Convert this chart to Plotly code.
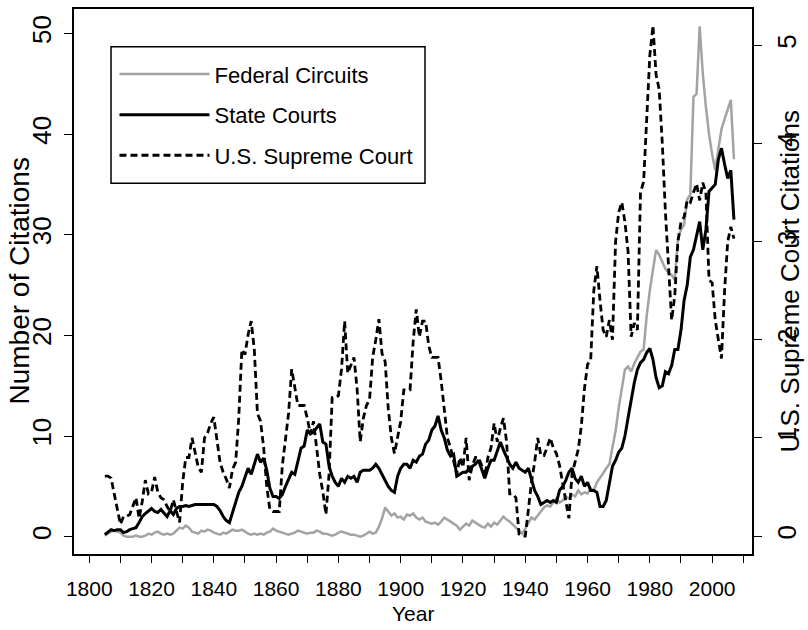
import plotly.graph_objects as go

years = list(range(1805, 2008))

federal_circuits = [
    0.1, 0.3, 0.5, 0.6, 0.5,
    0.4, 0.1, 0.0, 0.0, 0.0, 0.1, 0.0, 0.0, 0.1, 0.3,
    0.2, 0.4, 0.5, 0.3, 0.2, 0.3, 0.2, 0.3, 0.6, 0.9,
    0.8, 1.1, 0.9, 0.5, 0.4, 0.3, 0.6, 0.5, 0.7, 0.6,
    0.4, 0.3, 0.2, 0.4, 0.3, 0.5, 0.7, 0.6, 0.6, 0.7,
    0.5, 0.3, 0.2, 0.3, 0.2, 0.3, 0.2, 0.4, 0.5, 0.8,
    0.6, 0.5, 0.4, 0.3, 0.2, 0.3, 0.4, 0.6, 0.5, 0.4,
    0.3, 0.4, 0.4, 0.6, 0.5, 0.3, 0.3, 0.2, 0.1, 0.2,
    0.4, 0.5, 0.4, 0.3, 0.2, 0.2, 0.1, 0.0, 0.1, 0.3,
    0.5, 0.3, 0.4, 1.0, 1.8, 2.9, 2.5, 2.1, 2.3, 1.9,
    2.0, 1.7, 2.2, 2.1, 2.3, 1.9, 1.7, 1.9, 1.5, 1.4,
    1.3, 1.4, 1.2, 1.5, 1.9, 1.7, 1.5, 1.3, 1.1, 0.7,
    1.0, 1.3, 1.1, 1.6, 1.4, 1.2, 1.0, 0.9, 1.3, 1.0,
    1.4, 1.2, 1.6, 2.0, 1.7, 1.5, 1.2, 0.9, 0.6, 0.3,
    0.8, 1.3, 1.9, 1.7, 2.1, 2.6, 2.9, 3.1, 3.0, 3.4,
    3.8, 3.4, 3.6, 4.0, 3.8, 4.2, 4.0, 4.6, 4.2, 4.4,
    4.3, 4.8, 4.6, 5.4, 5.8, 6.3, 6.8, 7.2, 8.9, 10.5,
    12.8, 14.5, 16.6, 16.9, 16.4, 17.2, 17.8, 18.4, 18.6, 22.0,
    24.5, 26.5, 28.5, 28.0, 27.2, 26.6, 26.2, 26.0, 25.5, 29.5,
    30.5, 31.0, 33.5, 34.0, 43.7, 44.0, 50.7, 46.0, 42.7, 40.0,
    38.0, 36.4, 38.5, 40.5, 41.5, 42.5, 43.4, 37.5,
]

state_courts = [
    0.2, 0.5, 0.7, 0.6, 0.7,
    0.7, 0.4, 0.5, 0.7, 0.8, 0.9, 1.4, 2.0, 2.3, 2.6,
    2.8, 2.5, 2.4, 2.7, 2.3, 2.0, 2.6, 2.2, 2.8, 3.0,
    3.0, 3.1, 3.0, 3.1, 3.2, 3.2, 3.2, 3.2, 3.2, 3.2,
    3.2, 3.0, 2.6, 2.0, 1.6, 1.4, 2.4, 3.6, 4.4, 5.0,
    6.0, 6.8, 6.2, 7.2, 8.2, 7.4, 7.8, 6.6, 4.8, 4.0,
    4.0, 3.8, 4.2, 5.0, 5.8, 6.4, 6.2, 7.6, 8.8, 9.0,
    10.6, 10.2, 10.4, 10.8, 11.2, 9.4, 9.2, 7.0, 6.0, 5.4,
    5.0, 5.8, 5.4, 6.0, 5.8, 6.0, 5.4, 6.4, 6.6, 6.6,
    6.6, 6.8, 7.2, 6.8, 6.2, 5.6, 5.0, 4.6, 4.4, 6.0,
    6.8, 7.2, 7.2, 6.8, 7.6, 7.4, 8.0, 8.2, 9.2, 9.6,
    10.6, 11.0, 12.0, 10.6, 9.8, 8.6, 8.0, 8.2, 6.0, 6.2,
    6.4, 6.4, 6.8, 7.0, 7.2, 7.6, 6.6, 5.8, 6.8, 7.6,
    7.6, 8.4, 9.4, 8.6, 7.8, 7.2, 6.8, 7.4, 6.8, 6.6,
    6.4, 6.8, 5.6, 4.6, 4.0, 3.2, 3.4, 3.6, 3.4, 3.6,
    3.4, 4.6, 5.0, 5.6, 6.4, 6.8, 5.8, 5.4, 6.0, 5.0,
    5.4, 4.6, 4.6, 4.4, 3.0, 3.0, 3.6, 5.2, 7.0, 7.6,
    8.4, 8.8, 10.0, 11.8, 13.6, 15.3, 16.6, 17.3, 17.6, 18.3,
    18.7, 17.6, 15.8, 14.8, 15.0, 16.4, 16.2, 17.0, 18.6, 18.6,
    20.5, 23.5, 25.0, 27.8, 28.5, 30.0, 31.3, 28.5, 30.5, 34.3,
    34.6, 35.0, 37.5, 38.6, 37.0, 35.6, 36.4, 31.5,
]

supreme_court = [
    0.61, 0.61, 0.59, 0.43, 0.25,
    0.12, 0.2, 0.2, 0.22, 0.3, 0.39, 0.18, 0.35, 0.57, 0.43,
    0.45, 0.6, 0.45, 0.39, 0.37, 0.3, 0.25, 0.37, 0.25, 0.14,
    0.55, 0.8, 0.8, 1.0, 0.85, 0.7, 0.65, 1.0, 1.05, 1.15,
    1.21, 0.95, 0.75, 0.65, 0.58, 0.49, 0.68, 0.75, 1.2, 1.9,
    1.85, 2.05, 2.19, 1.9, 1.25, 1.17, 0.9, 0.5, 0.27, 0.25,
    0.25, 0.25, 0.72, 1.0, 1.25, 1.7, 1.5, 1.33, 1.33, 1.33,
    1.2, 1.04, 1.17, 0.9, 0.63, 0.45, 0.22, 0.63, 1.41, 1.41,
    1.43, 1.7, 2.19, 1.66, 1.75, 1.82, 1.5, 0.96, 1.2, 1.33,
    1.39, 1.82, 2.0, 2.21, 1.86, 1.78, 1.3, 1.0, 0.84, 1.0,
    1.17, 1.49, 1.49, 1.49, 1.98, 2.31, 2.03, 2.19, 2.19, 1.94,
    1.82, 1.82, 1.82, 1.58, 1.3, 1.0, 0.9, 0.76, 0.63, 0.8,
    0.7, 1.0, 0.57, 0.72, 0.8, 0.8, 0.72, 0.6, 0.8, 0.9,
    1.15, 0.96, 1.1, 1.2, 0.96, 0.43, 0.43, 0.39, 0.02, 0.0,
    0.0, 0.27, 0.55, 0.75, 1.0, 0.82, 0.82, 0.9, 1.0, 0.9,
    0.84, 0.72, 0.55, 0.39, 0.18, 0.63, 0.76, 0.88, 1.12, 1.5,
    1.75, 1.79, 2.5, 2.75, 2.4, 2.1, 2.03, 2.2, 2.0, 3.0,
    3.3, 3.4, 3.2, 2.9, 2.03, 2.17, 2.1, 3.5, 3.61, 4.3,
    4.9, 5.2, 4.7, 4.55, 4.0, 3.3, 2.8, 2.2, 2.45, 3.0,
    3.2, 3.25, 3.42, 3.4, 3.5, 3.59, 3.42, 3.6, 3.5, 2.61,
    2.58, 2.2, 2.0, 1.81, 2.5, 3.0, 3.15, 3.03,
]

x_ticks = [1800, 1820, 1840, 1860, 1880, 1900, 1920, 1940, 1960, 1980, 2000]
left_ticks = [0, 10, 20, 30, 40, 50]
right_ticks = [0, 1, 2, 3, 4, 5]

FONT = "Liberation Sans, Arial, sans-serif"

fig = go.Figure()
fig.add_trace(go.Scatter(x=years, y=federal_circuits, name="Federal Circuits", mode="lines",
                         legendgroup="a",
                         line=dict(color="#a3a3a3", width=2.5)))
fig.add_trace(go.Scatter(x=years, y=state_courts, name="State Courts", mode="lines",
                         legendgroup="b",
                         line=dict(color="black", width=3)))
fig.add_trace(go.Scatter(x=years, y=supreme_court, name="U.S. Supreme Court", mode="lines",
                         legendgroup="c",
                         line=dict(color="black", width=2.8, dash="7px,4px"), yaxis="y2"))

fig.update_layout(
    width=808, height=630,
    margin=dict(l=74, r=56, t=9, b=76, autoexpand=False),
    paper_bgcolor="white", plot_bgcolor="white",
    showlegend=True,
    legend=dict(x=0.0597, y=0.9188, xanchor="left", yanchor="top",
                borderwidth=0, bgcolor="rgba(0,0,0,0)",
                font=dict(family=FONT, size=22, color="black"),
                itemwidth=90, tracegroupgap=9),
    shapes=[dict(type="rect", xref="paper", yref="paper",
                 x0=0.0546, x1=0.5177, y0=0.6802, y1=0.9308,
                 line=dict(color="black", width=1.5), fillcolor="rgba(0,0,0,0)",
                 layer="above")],
    xaxis=dict(range=[1795.1, 2012.8], tickvals=x_ticks, ticks="outside", ticklen=7,
               tickcolor="black", tickwidth=1.2, showgrid=False, zeroline=False,
               showline=True, linecolor="black", linewidth=1.5, mirror=True,
               automargin=False,
               tickfont=dict(family=FONT, size=21, color="black"),
               minor=dict(dtick=10, tick0=1800, ticks="outside", ticklen=7, tickcolor="black",
                          tickwidth=1.2, showgrid=False),
               ticklabelstandoff=8),
    yaxis=dict(range=[-1.72, 52.43], tickvals=left_ticks, ticks="outside", ticklen=8,
               tickcolor="black", tickwidth=1.2, showgrid=False, zeroline=False,
               showline=True, linecolor="black", linewidth=1.5, mirror=True,
               automargin=False,
               tickangle=-90, tickfont=dict(family=FONT, size=26, color="black"),
               ticklabelstandoff=3),
    yaxis2=dict(range=[-0.183, 5.37], tickvals=right_ticks, ticks="outside", ticklen=9,
                tickcolor="black", tickwidth=1.2, showgrid=False, zeroline=False,
                overlaying="y", side="right", showline=False, automargin=False,
                tickangle=-90, tickfont=dict(family=FONT, size=26, color="black"),
                ticklabelstandoff=3),
    annotations=[
        dict(text="Number of Citations", xref="paper", yref="paper", x=-0.0811, y=0.5,
             xanchor="center", yanchor="middle", textangle=-90, showarrow=False,
             font=dict(family=FONT, size=28, color="black")),
        dict(text="U.S. Supreme Court Citations", xref="paper", yref="paper", x=1.056, y=0.5,
             xanchor="center", yanchor="middle", textangle=-90, showarrow=False,
             font=dict(family=FONT, size=26, color="black")),
        dict(text="Year", xref="paper", yref="paper", x=0.5, y=-0.085,
             xanchor="center", yanchor="top", showarrow=False,
             font=dict(family=FONT, size=21, color="black")),
    ],
)

fig.write_html("out.html", config={"displayModeBar": False},
               post_script="document.body.style.margin='0';document.body.style.overflow='hidden';")
